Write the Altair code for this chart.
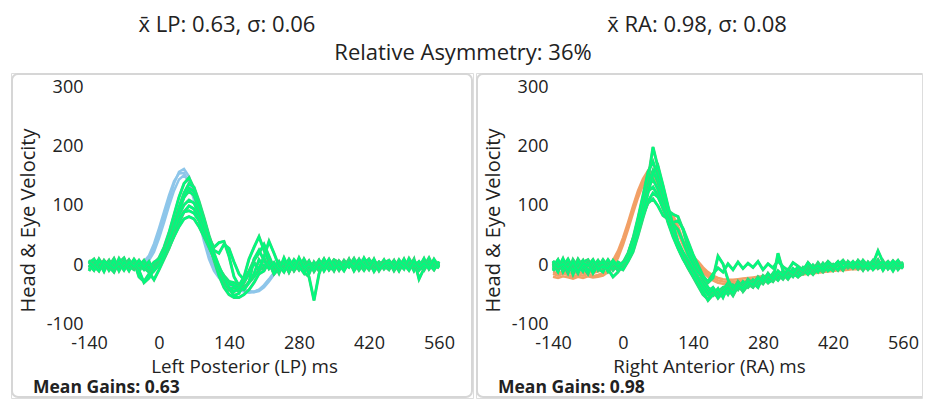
import altair as alt
import pandas as pd

FONT = "Open Sans"
TXT = "#222222"
GREEN = "#00fa7d"
GREEN_EDGE = "#4cc97b"
BLUE = "#8ec6ea"
ORANGE = "#f2a066"
BORDER = "#d6d6d6"

# sample times (ms)
T = [-140, -130, -120, -110, -100, -90, -80, -70, -60, -50,
     -40, -30, -20, -10, 0, 10, 20, 30, 40, 50,
     60, 70, 80, 90, 100, 110, 120, 130, 140, 150,
     160, 170, 180, 190, 200, 210, 220, 230, 240, 250,
     260, 270, 280, 290, 300, 310, 320, 330, 340, 350,
     360, 370, 380, 390, 400, 410, 420, 430, 440, 450,
     460, 470, 480, 490, 500, 510, 520, 530, 540, 550,
     560]

X_TICKS = [-140, 0, 140, 280, 420, 560]
Y_TICKS = [-100, 0, 100, 200, 300]

# ---------------- Left Posterior: head (blue) ----------------
LP_HEAD_1 = [2, 0, -2, 1, 3, 0, -1, 2, 1, 0,
             1, 4, 12, 30, 55, 82, 110, 138, 158, 163,
             150, 118, 82, 46, 14, -8, -20, -28, -34, -38,
             -41, -43, -45, -45, -42, -35, -25, -14, -6, -1,
             2, 1, 0, -1, 0, 1, 2, 0, -1, 0,
             1, 2, 3, 5, 7, 8, 7, 5, 3, 1,
             0, -1, 0, 1, 0, -1, 0, 1, 0, -1,
             0]
LP_HEAD_2 = [0, 1, -1, 0, 2, 1, -2, 0, 1, -1,
             0, 2, 8, 22, 45, 72, 100, 126, 145, 152,
             142, 115, 82, 48, 18, -4, -18, -26, -32, -36,
             -39, -42, -44, -46, -44, -38, -28, -16, -7, -2,
             1, 0, -1, 0, 1, 2, 1, 0, -1, 1,
             2, 3, 5, 6, 8, 9, 7, 4, 2, 0,
             -1, 0, 1, 0, -1, 0, 1, 0, -1, 0,
             1]
LP_HEAD_3 = [1, -1, 0, 2, 0, -1, 1, 0, -1, 1,
             2, 6, 16, 36, 62, 90, 118, 142, 155, 156,
             140, 110, 75, 40, 10, -10, -22, -30, -36, -40,
             -43, -45, -47, -46, -42, -34, -24, -13, -5, 0,
             1, 2, 1, 0, -1, 0, 1, 1, 0, -1,
             0, 2, 4, 6, 7, 8, 6, 4, 2, 0,
             0, 1, 0, -1, 0, 1, 0, -1, 0, 1,
             0]

# ---------------- Left Posterior: eye (green) ----------------
LP_EYE_1 = [5, -8, 10, -3, 8, -10, 4, 12, -6, 3,
            -12, 6, -4, 2, 12, 30, 55, 85, 115, 138,
            148, 130, 100, 70, 40, 12, -10, -30, -42, -38,
            -45, -38, -30, -20, -8, -5, 8, -12, 3, -6,
            6, -10, 2, 9, -7, 4, -3, 10, -8, 2,
            -5, 8, -2, 6, -9, 3, 10, -4, 5, -7,
            2, -6, 9, -3, 7, -10, 4, -2, 12, -5,
            3]
LP_EYE_2 = [-4, 7, -9, 5, -2, 11, -7, 3, -10, 6,
            -20, -28, -15, -5, 8, 22, 45, 70, 95, 115,
            125, 118, 95, 70, 45, 30, 38, 40, 15, -20,
            -35, -20, 10, 30, 48, 25, 5, -15, -5, 8,
            -12, 5, -8, 10, -5, 3, -10, 7, -2, 9,
            4, -7, 6, -3, 10, -6, 2, -9, 5, -1,
            -8, 6, -3, 9, -6, 2, -4, 11, -7, 4,
            -2]
LP_EYE_3 = [8, -3, 4, -11, 7, 0, -6, 9, -2, -8,
            5, -5, -12, -25, -8, 10, 28, 50, 72, 90,
            100, 95, 80, 60, 38, 15, -5, -25, -40, -52,
            -48, -30, -15, 5, -10, 12, -6, 3, -14, 8,
            -4, -8, 5, -12, -20, -60, -15, 6, -7, 8,
            3, -5, 10, -8, 4, -2, 7, -11, 2, 6,
            -3, 8, -9, 3, -5, 10, -24, -6, 3, -8,
            5]
LP_EYE_4 = [-10, 4, -6, 8, -3, -12, 6, -1, 9, -5,
            2, -8, 3, -6, 5, 15, 30, 48, 65, 78,
            82, 78, 65, 48, 30, 12, -5, -18, -28, -30,
            -35, -40, -28, -15, 9, -3, 7, -9, 2, -5,
            10, -4, 6, -11, 3, -7, 8, -2, 5, -10,
            7, -3, 9, -6, 2, -9, 4, 8, -5, 1,
            6, -10, 3, -4, 9, -2, -8, 5, -3, 7,
            -4]
LP_EYE_5 = [3, 10, -5, 6, -9, 4, 2, -7, 8, -4,
            -6, 3, -9, -4, 4, 20, 42, 68, 98, 122,
            138, 132, 108, 80, 50, 25, 20, 35, 28, 5,
            -15, -25, -10, 8, 20, 35, 15, -5, 6, -8,
            3, -6, 10, -4, 7, -11, 2, 5, -8, 4,
            -9, 6, -2, 11, -5, 3, -8, 7, -3, 9,
            -6, 4, -10, 7, -1, 5, -9, 2, 8, -6,
            2]
LP_EYE_6 = [-7, 2, 9, -4, 5, -8, 11, -3, 0, 7,
            -9, -30, -22, -8, 2, 15, 35, 60, 85, 102,
            110, 105, 88, 62, 35, 8, -18, -38, -50, -55,
            -55, -50, -42, -30, -15, -10, 6, -15, -4, 3,
            -12, 4, -8, 2, -15, 5, -6, 10, -3, -9,
            6, -2, 8, -10, 3, -5, 9, -1, -7, 4,
            -2, 7, -5, 10, -8, 3, -1, -9, 6, 0,
            -5]
LP_EYE_7 = [0, -9, 6, 3, -5, 9, -10, 5, -3, 10,
            -2, 8, -6, 5, 10, 22, 40, 60, 78, 90,
            92, 88, 75, 55, 32, 10, -8, -20, -32, -35,
            -38, -42, -30, 10, 25, 8, -6, 4, -10, 12,
            -6, 9, -2, -14, 6, -4, 8, -10, 3, 5,
            -8, 2, -4, 9, -6, 12, -3, 5, -10, 3,
            8, -4, 2, -7, 11, -3, 6, -5, 1, -8,
            6]
LP_EYE_8 = [6, -2, -10, 7, 1, -6, 3, -9, 5, -3,
            8, -4, 6, -10, 0, 15, 38, 65, 92, 115,
            130, 125, 102, 75, 48, 20, -2, -22, -38, -45,
            -40, -28, -12, 2, -6, 14, 40, 20, -2, -12,
            5, -8, 12, -5, 2, -9, 6, -3, 10, -6,
            1, -10, 5, -4, 8, -1, -6, 10, -8, 2,
            4, -7, 6, 1, -9, 8, -4, 3, -6, 10,
            -3]

# ---------------- Right Anterior: head (orange) ----------------
RA_HEAD_1 = [-15, -18, -14, -17, -20, -16, -18, -15, -19, -17,
             -14, -10, 2, 18, 40, 66, 94, 120, 142, 156,
             152, 130, 104, 88, 80, 62, 38, 20, 12, 4,
             -8, -16, -22, -26, -28, -29, -29, -28, -27, -26,
             -25, -24, -22, -21, -20, -19, -18, -17, -16, -15,
             -14, -13, -13, -12, -11, -10, -9, -8, -8, -7,
             -6, -6, -5, -5, -4, -4, -3, -3, -3, -2,
             -2]
RA_HEAD_2 = [-20, -22, -19, -21, -23, -20, -22, -19, -21, -20,
             -18, -12, -2, 12, 34, 60, 88, 114, 136, 150,
             148, 128, 100, 82, 72, 55, 34, 16, 6, -2,
             -12, -20, -26, -30, -32, -33, -32, -31, -30, -29,
             -28, -26, -25, -24, -22, -21, -20, -19, -18, -17,
             -16, -15, -14, -13, -12, -11, -10, -9, -9, -8,
             -7, -7, -6, -6, -5, -5, -4, -4, -3, -3,
             -3]
RA_HEAD_3 = [-12, -14, -11, -13, -15, -12, -14, -12, -13, -11,
             -8, -2, 8, 24, 46, 72, 100, 126, 146, 160,
             155, 134, 110, 92, 84, 66, 42, 24, 14, 6,
             -4, -12, -18, -22, -24, -25, -25, -24, -23, -22,
             -21, -20, -19, -18, -17, -16, -15, -14, -13, -12,
             -12, -11, -10, -10, -9, -8, -8, -7, -6, -6,
             -5, -5, -4, -4, -3, -3, -2, -2, -2, -1,
             -1]

# ---------------- Right Anterior: eye (green) ----------------
RA_EYE_1 = [-5, 8, -12, 4, -8, 10, -3, -15, 6, -9,
            3, -10, 5, -6, 2, 15, 38, 70, 105, 145,
            200, 165, 120, 85, 58, 35, 18, 5, -12, -28,
            -40, -48, -52, -45, -38, -50, -35, -42, -30, -38,
            -28, -35, -22, -30, -18, -26, -15, -24, -12, -20,
            -14, -8, -16, -5, -12, -3, -10, 2, -8, 4,
            -6, 3, -9, 5, -4, 8, -7, 2, -5, 6,
            -3]
RA_EYE_2 = [6, -8, 3, -14, 9, -4, 7, -10, 2, -6,
            -12, 4, -9, 2, -5, 8, 30, 62, 98, 138,
            160, 140, 110, 92, 86, 82, 60, 30, 8, -10,
            -25, -38, -45, -55, -48, -40, -52, -36, -44, -32,
            -38, -25, -32, -20, -28, -16, -24, -12, -20, -8,
            -15, -6, -12, -2, -10, 3, -7, 1, -9, 5,
            -4, 7, -8, 2, -3, 9, -6, 3, -10, 4,
            0]
RA_EYE_3 = [-10, 2, -4, 7, -16, 3, -8, 5, -12, 1,
            6, -7, -20, -12, 0, 18, 45, 63, 92, 125,
            132, 118, 95, 75, 52, 30, 12, -5, -20, -35,
            -50, -58, -45, -52, -40, -46, -34, -40, -28, -36,
            -25, -32, -18, -26, -14, -22, -10, -18, -6, -14,
            -4, -11, 0, -8, 3, -6, 1, -9, 4, -5,
            2, -7, 5, -3, 8, -6, 0, -4, 6, -8,
            2]
RA_EYE_4 = [2, -12, 8, -5, 0, -14, 5, 9, -7, 3,
            -4, 9, -3, -8, 4, 20, 45, 80, 118, 158,
            175, 150, 118, 88, 60, 38, 20, 8, -5, -20,
            -32, -45, -38, -50, -42, -30, -44, -28, -38, -24,
            -32, -20, -28, -14, -24, -12, -18, -10, -16, -6,
            -12, -2, -9, 4, -7, 0, -5, 3, -8, 6,
            -2, 5, -6, 1, -4, 7, -9, 4, -1, 8,
            -4]
RA_EYE_5 = [-8, 5, -2, 10, -6, 1, -11, 6, -3, 8,
            -5, 2, -7, 5, 0, 12, 32, 58, 85, 105,
            112, 100, 84, 78, 72, 75, 62, 40, 18, 0,
            -18, -30, -22, 15, 2, -25, -40, -30, -45, -34,
            -30, -38, -20, -30, -25, 20, -10, -22, -14, -20,
            -8, -16, -4, -12, 2, -10, -3, 5, -6, 1,
            4, -5, 8, -2, -7, 3, -1, 6, -4, 2,
            -6]
RA_EYE_6 = [4, -6, 11, -9, 3, -2, 8, -12, 5, -4,
            9, -3, 6, -10, 3, 14, 36, 65, 100, 132,
            145, 128, 102, 72, 48, 28, 10, -4, -18, -32,
            -45, -60, -50, -40, -55, -36, -48, -30, -42, -26,
            -36, -22, -30, -16, -26, -14, -20, -8, -16, -4,
            -10, 0, -8, 2, -6, 5, -4, 0, 8, -3,
            6, -4, 3, -8, 2, 24, 5, -6, 3, -2,
            5]
RA_EYE_7 = [-3, 9, -7, 2, -10, 7, -5, 4, -14, 0,
            5, -11, 3, -4, -8, 6, 22, 50, 80, 108,
            122, 115, 98, 80, 70, 60, 40, 18, 2, -12,
            -20, -28, -15, -5, -12, 2, -8, 5, -6, 3,
            -4, 6, -8, 2, -5, 7, -3, -9, 4, -2,
            -9, 3, -6, 0, -4, 6, -2, -8, 4, -1,
            -5, 8, 0, -6, 3, -3, 7, -7, 2, -4,
            3]
RA_EYE_8 = [7, -4, 2, -9, 6, -12, 3, -1, 9, -7,
            -2, -6, 8, -3, 5, 10, 28, 55, 88, 122,
            155, 168, 135, 100, 68, 40, 22, 8, -8, -22,
            -38, -50, -42, -56, -45, -38, -48, -34, -40, -28,
            -34, -22, -28, -15, -24, -10, -18, -8, -14, -3,
            -10, 4, -6, -1, -8, 3, -3, 6, -5, 2,
            -1, 6, -4, 4, -8, 1, 5, -3, 7, -2,
            1]

LP_TITLE = "x\u0304 LP: 0.63, \u03c3: 0.06"
RA_TITLE = "x\u0304 RA: 0.98, \u03c3: 0.08"
ASYM_TITLE = "Relative Asymmetry: 36%"
LP_XTITLE = "Left Posterior (LP) ms"
RA_XTITLE = "Right Anterior (RA) ms"
LP_GAINS = "Mean Gains: 0.63"
RA_GAINS = "Mean Gains: 0.98"
Y_TITLE = "Head & Eye Velocity"

PANEL_H = 325
Y_DOMAIN = [-225.4, 325.4]
HEAD_FS = 22


def traces_df(series, name):
    return pd.DataFrame({"t": T, "v": series, "trace": [name] * len(T)})


def panel(heads, eyes, head_color, x_domain, width, xtitle, gains, headers, open_right):
    xs = alt.Scale(domain=x_domain, nice=False, zero=False)
    ys = alt.Scale(domain=Y_DOMAIN, nice=False, zero=False)
    x_axis = alt.Axis(values=X_TICKS, offset=-64, domain=False, ticks=False, grid=False,
                      labelPadding=0, labelFontSize=18, labelColor=TXT, labelFont=FONT,
                      labelFlush=False, labelOverlap=False,
                      labelExpr="toString(datum.value)",
                      title=xtitle, titleX=233, titleY=32, titleAlign="center",
                      titleBaseline="middle", titleFontSize=18.8, titleFontWeight="normal",
                      titleColor=TXT, titleFont=FONT)
    y_axis = alt.Axis(values=Y_TICKS, offset=-72, domain=False, ticks=False, grid=False,
                      labelPadding=0, labelFontSize=18, labelColor=TXT, labelFont=FONT,
                      labelFlush=False, labelOverlap=False,
                      labelExpr="toString(datum.value)",
                      title=Y_TITLE, titleX=-55, titleY=147, titleAngle=270,
                      titleAlign="center", titleBaseline="middle", titleFontSize=20,
                      titleFontWeight="normal", titleColor=TXT, titleFont=FONT)

    box_right = width + 20 if open_right else width - 1
    box = alt.Chart(pd.DataFrame({"k": [0]})).mark_rect(
        fill="transparent", stroke=BORDER, strokeWidth=2, cornerRadius=6, clip=True
    ).encode(x=alt.value(1), x2=alt.value(box_right), y=alt.value(1), y2=alt.value(PANEL_H - 1))

    layers = [box]
    head_df = pd.concat([traces_df(s, f"h{k}") for k, s in enumerate(heads)])
    layers.append(
        alt.Chart(head_df).mark_line(color=head_color, strokeWidth=2.5, clip=True).encode(
            x=alt.X("t:Q", scale=xs, axis=x_axis),
            y=alt.Y("v:Q", scale=ys, axis=y_axis),
            detail="trace:N",
        )
    )
    for k, s in enumerate(eyes):
        d = traces_df(s, f"e{k}")
        layers.append(
            alt.Chart(d).mark_line(color=GREEN_EDGE, strokeWidth=3.0, clip=True).encode(
                x=alt.X("t:Q", scale=xs), y=alt.Y("v:Q", scale=ys)
            )
        )
        layers.append(
            alt.Chart(d).mark_line(color=GREEN, strokeWidth=2.2, clip=True).encode(
                x=alt.X("t:Q", scale=xs), y=alt.Y("v:Q", scale=ys)
            )
        )
    layers.append(
        alt.Chart(pd.DataFrame({"s": [gains]})).mark_text(
            align="left", baseline="middle", fontSize=17.5, fontWeight="bold",
            color=TXT, font=FONT
        ).encode(x=alt.value(22), y=alt.value(315), text="s:N")
    )
    for txt, px, py in headers:
        layers.append(
            alt.Chart(pd.DataFrame({"s": [txt]})).mark_text(
                align="center", baseline="middle", fontSize=HEAD_FS, color=TXT, font=FONT
            ).encode(x=alt.value(px), y=alt.value(py), text="s:N")
        )
    return alt.layer(*layers).properties(width=width, height=PANEL_H)


left = panel([LP_HEAD_1, LP_HEAD_2, LP_HEAD_3],
             [LP_EYE_1, LP_EYE_2, LP_EYE_3, LP_EYE_4, LP_EYE_5, LP_EYE_6, LP_EYE_7, LP_EYE_8],
             BLUE, [-296, 628], 462, LP_XTITLE, LP_GAINS,
             [(LP_TITLE, 216, -48), (ASYM_TITLE, 452, -20)], False)
right = panel([RA_HEAD_1, RA_HEAD_2, RA_HEAD_3],
              [RA_EYE_1, RA_EYE_2, RA_EYE_3, RA_EYE_4, RA_EYE_5, RA_EYE_6, RA_EYE_7, RA_EYE_8],
              ORANGE, [-294, 598], 446, RA_XTITLE, RA_GAINS,
              [(RA_TITLE, 221, -48)], True)

chart = alt.hconcat(left, right, spacing=3, bounds="flush").properties(
    padding={"left": 2, "top": 5, "right": 0, "bottom": 0},
    background="white",
).configure_view(
    stroke="transparent"
).configure(font=FONT)

chart.save("out.html", embed_options={"renderer": "svg", "actions": False})
